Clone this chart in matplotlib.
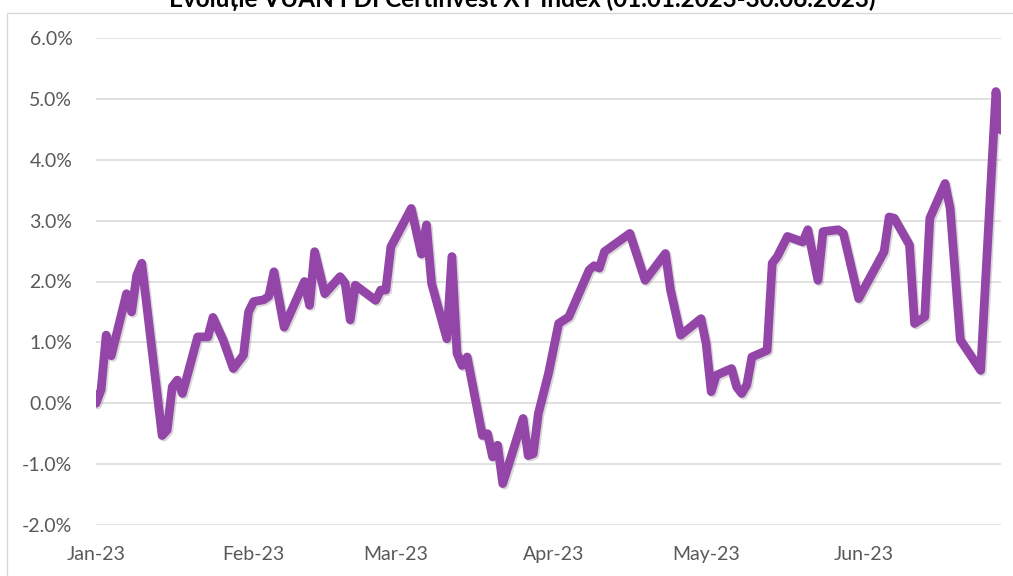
import matplotlib
matplotlib.use("Agg")
import matplotlib.pyplot as plt
import matplotlib.dates as mdates
import matplotlib.patheffects as pe
from matplotlib.patches import Rectangle
from matplotlib.ticker import FuncFormatter
import pandas as pd

plt.rcParams["font.family"] = ["Lato", "DejaVu Sans"]

TITLE = "Evoluție VUAN FDI Certinvest XT Index (01.01.2023-30.06.2023)"

# dates and performance (%)
dates = [
    "2023-01-01", "2023-01-02", "2023-01-03", "2023-01-04", "2023-01-07",
    "2023-01-08", "2023-01-09", "2023-01-10", "2023-01-14", "2023-01-15",
    "2023-01-16", "2023-01-17", "2023-01-18", "2023-01-21", "2023-01-23",
    "2023-01-24", "2023-01-26", "2023-01-28", "2023-01-30", "2023-01-31",
    "2023-02-01", "2023-02-03", "2023-02-04", "2023-02-05", "2023-02-07",
    "2023-02-11", "2023-02-12", "2023-02-13", "2023-02-15", "2023-02-18",
    "2023-02-19", "2023-02-20", "2023-02-21", "2023-02-25", "2023-02-26",
    "2023-02-27", "2023-02-28", "2023-03-04", "2023-03-06", "2023-03-07",
    "2023-03-08", "2023-03-11", "2023-03-12", "2023-03-13", "2023-03-14",
    "2023-03-15", "2023-03-18", "2023-03-19", "2023-03-20", "2023-03-21",
    "2023-03-22", "2023-03-26", "2023-03-27", "2023-03-28", "2023-03-29",
    "2023-03-31", "2023-04-02", "2023-04-04", "2023-04-08", "2023-04-09",
    "2023-04-10", "2023-04-11", "2023-04-16", "2023-04-19", "2023-04-23",
    "2023-04-24", "2023-04-26", "2023-04-30", "2023-05-01", "2023-05-02",
    "2023-05-03", "2023-05-06", "2023-05-07", "2023-05-08", "2023-05-09",
    "2023-05-10", "2023-05-13", "2023-05-14", "2023-05-15", "2023-05-17",
    "2023-05-20", "2023-05-21", "2023-05-23", "2023-05-24", "2023-05-27",
    "2023-05-28", "2023-05-31", "2023-06-05", "2023-06-06", "2023-06-07",
    "2023-06-10", "2023-06-11", "2023-06-13", "2023-06-14", "2023-06-17",
    "2023-06-18", "2023-06-20", "2023-06-24", "2023-06-27", "2023-06-28",
]
perf = [
    0.00, 0.22, 1.12, 0.78, 1.80,
    1.50, 2.10, 2.30, -0.53, -0.44,
    0.27, 0.38, 0.16, 1.09, 1.09,
    1.41, 1.04, 0.57, 0.79, 1.50,
    1.67, 1.70, 1.76, 2.16, 1.25,
    2.00, 1.61, 2.49, 1.80, 2.08,
    1.97, 1.37, 1.94, 1.69, 1.86,
    1.86, 2.57, 3.20, 2.45, 2.93,
    1.97, 1.06, 2.41, 0.82, 0.62,
    0.76, -0.53, -0.50, -0.88, -0.69,
    -1.32, -0.25, -0.86, -0.83, -0.17,
    0.49, 1.31, 1.42, 2.19, 2.26,
    2.22, 2.49, 2.79, 2.02, 2.46,
    1.86, 1.12, 1.39, 0.98, 0.19,
    0.46, 0.57, 0.27, 0.16, 0.30,
    0.76, 0.87, 2.30, 2.41, 2.74,
    2.65, 2.85, 2.02, 2.82, 2.85,
    2.79, 1.72, 2.49, 3.06, 3.04,
    2.60, 1.31, 1.42, 3.04, 3.61,
    3.20, 1.04, 0.54, 5.12, 4.49,
]
month_ticks = ["2023-01-01", "2023-02-01", "2023-03-01",
               "2023-04-01", "2023-05-01", "2023-06-01"]

W, H = 1013, 576
fig = plt.figure(figsize=(W / 100, H / 100), dpi=100)
ax = fig.add_axes([96 / W, 1 - 525 / H, (1001 - 96) / W, (525 - 38) / H])

x = pd.to_datetime(dates)
ax.plot(x, perf, color="#9446A8", linewidth=6.3, solid_joinstyle="round",
        solid_capstyle="round", zorder=3,
        path_effects=[pe.SimpleLineShadow(offset=(1.2, -1.2), shadow_color="#808080", alpha=0.3),
                      pe.Normal()])

ax.set_xlim(x[0], x[-1])
ax.set_ylim(-2, 6)
ax.set_yticks(range(-2, 7))
ax.yaxis.set_major_formatter(FuncFormatter(lambda v, _: f"{v:.1f}%"))
ax.set_xticks(pd.to_datetime(month_ticks))
ax.xaxis.set_major_formatter(mdates.DateFormatter("%b-%y"))
ax.grid(axis="y", color="#D9D9D9", linewidth=1.1)
ax.set_axisbelow(True)
for s in ax.spines.values():
    s.set_visible(False)
ax.tick_params(axis="y", length=0, pad=17, labelsize=14, labelcolor="#595959")
ax.tick_params(axis="x", length=0, pad=15, labelsize=14, labelcolor="#595959")

# chart frame
fig.patches.append(Rectangle((7 / W, -0.1), 1.1, 1.1 - 13 / H, transform=fig.transFigure,
                             fill=False, edgecolor="#D9D9D9", linewidth=1))
fig.text(522 / W, 1 - 7 / H, TITLE, ha="center", va="baseline", fontsize=17.5,
         fontweight="bold", color="black")

fig.savefig("out.png", dpi=100)
